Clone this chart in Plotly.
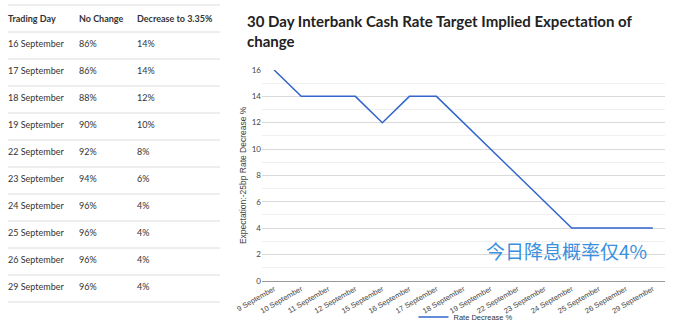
import plotly.graph_objects as go

# ---- data ----
chart_dates = ["9 September", "10 September", "11 September", "12 September",
               "15 September", "16 September", "17 September", "18 September",
               "19 September", "22 September", "23 September", "24 September",
               "25 September", "26 September", "29 September"]
rate_decrease = [16, 14, 14, 14, 12, 14, 14, 12, 10, 8, 6, 4, 4, 4, 4]

table_header = ["Trading Day", "No Change", "Decrease to 3.35%"]
table_days = ["16 September", "17 September", "18 September", "19 September",
              "22 September", "23 September", "24 September", "25 September",
              "26 September", "29 September"]
table_no_change = ["86%", "86%", "88%", "90%", "92%", "94%", "96%", "96%", "96%", "96%"]
table_decrease = ["14%", "14%", "12%", "10%", "8%", "6%", "4%", "4%", "4%", "4%"]

title_text = "30 Day Interbank Cash Rate Target Implied Expectation of<br>change"
y_title = "Expectation:-25bp Rate Decrease %"
series_name = "Rate Decrease %"
note_text = "今日降息概率仅4%"

W, H = 700, 325
def px(x):
    return x / W
def py(y):
    return 1 - y / H

def nb(s):
    # non-breaking spaces so the table does not wrap cells
    return s.replace(" ", "\u00a0")

fig = go.Figure()

# table
row_h = 27
tbl_top, tbl_left, tbl_right = 5, 0, 225
n_rows = len(table_days) + 1
fig.add_trace(go.Table(
    domain=dict(x=[px(tbl_left), px(tbl_right)],
                y=[py(tbl_top + row_h * n_rows), py(tbl_top)]),
    columnwidth=[71, 58, 96],
    header=dict(values=["<b>%s</b>" % nb(h) for h in table_header],
                align="left", height=row_h,
                font=dict(family="Lato", size=9, color="#333"),
                fill_color="white", line=dict(color="white", width=1)),
    cells=dict(values=[[nb(d) for d in table_days], table_no_change, table_decrease],
               align="left", height=row_h,
               font=dict(family="Lato", size=9, color="#333"),
               fill_color="white", line=dict(color="white", width=1)),
))

shapes = []
for i in range(n_rows + 1):
    yy = tbl_top + row_h * i
    shapes.append(dict(type="line", xref="paper", yref="paper",
                       x0=px(8), x1=px(220), y0=py(yy), y1=py(yy),
                       line=dict(color="#dcdcdc", width=1)))

fig.add_trace(go.Scatter(
    x=chart_dates, y=rate_decrease, mode="lines", name=series_name,
    line=dict(color="#3366cc", width=1.5),
    showlegend=True,
))

fig.update_layout(
    width=W, height=H,
    margin=dict(l=0, r=0, t=0, b=0, autoexpand=False),
    paper_bgcolor="white", plot_bgcolor="white",
    shapes=shapes,
    xaxis=dict(domain=[px(262), px(665)], type="category", automargin=False,
               range=[-0.45, 14.45],
               tickangle=-30, tickfont=dict(family="Liberation Sans", size=7.5, color="#444"),
               showgrid=False, showline=True, linecolor="#999", linewidth=1,
               ticks="", ticklen=0),
    yaxis=dict(domain=[py(280.7), py(70)], range=[0, 16], dtick=2, automargin=False,
               tickfont=dict(family="Lato", size=8, color="#444"),
               showgrid=True, gridcolor="#d9d9d9", gridwidth=1,
               minor=dict(dtick=1, showgrid=True, gridcolor="#efefef", gridwidth=1),
               zeroline=False, showline=False, ticks="",
               title=dict(text=y_title, font=dict(family="Liberation Sans", size=8.5, color="#444"), standoff=3)),
    legend=dict(orientation="h", x=px(466), xanchor="center", y=py(317), yanchor="middle",
                font=dict(family="Liberation Sans", size=7.5, color="#333"), bgcolor="rgba(0,0,0,0)"),
    annotations=[
        dict(text="<b>%s</b>" % title_text, xref="paper", yref="paper",
             x=px(245), y=py(9.5), xanchor="left", yanchor="top", align="left", showarrow=False,
             font=dict(family="Lato", size=15, color="#222")),
        dict(text=note_text, xref="paper", yref="paper", x=px(566), y=py(250),
             xanchor="center", yanchor="middle", showarrow=False,
             font=dict(family="Noto Sans CJK SC", size=19, color="#3a90e0")),
    ],
)

fig.write_html("out.html")
